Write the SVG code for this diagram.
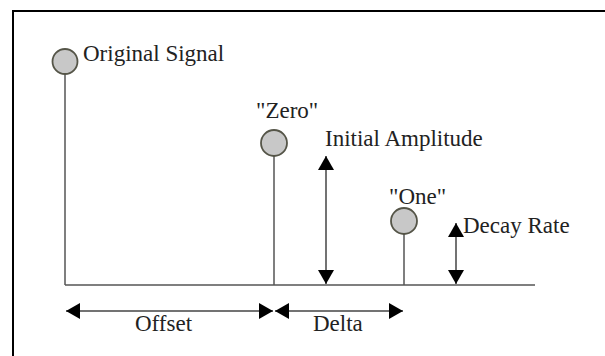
<svg xmlns="http://www.w3.org/2000/svg" width="605" height="356" viewBox="0 0 605 356">
  <style>
    .frame { fill: none; stroke: #000; stroke-width: 2; }
    .stem { stroke: #555; stroke-width: 1.5; fill: none; }
    .dot { fill: #c8c8c8; stroke: #555548; stroke-width: 1.8; }
    .dim { stroke: #444; stroke-width: 1.5; fill: none; }
    .lbl { font-family: "Liberation Serif", "Times New Roman", serif; font-size: 23px; fill: #222; }
  </style>
  <defs>
    <marker id="ah" viewBox="0 0 14 16" refX="14" refY="8" markerWidth="14" markerHeight="16" markerUnits="userSpaceOnUse" orient="auto-start-reverse">
      <path d="M0,0 L14,8 L0,16 Z" fill="#000"/>
    </marker>
  </defs>

  <rect id="frame" class="frame" x="13" y="11" width="610" height="360"/>

  <line id="baseline" class="stem" x1="65" y1="285" x2="535" y2="285"/>

  <g id="original-signal">
    <line class="stem" x1="65" y1="74" x2="65" y2="285"/>
    <circle class="dot" cx="65" cy="61.5" r="12.5"/>
    <text class="lbl" x="83" y="61">Original Signal</text>
  </g>

  <g id="zero">
    <line class="stem" x1="274" y1="156" x2="274" y2="285"/>
    <circle class="dot" cx="274" cy="143" r="13"/>
    <text class="lbl" x="256" y="118">"Zero"</text>
  </g>

  <g id="one">
    <line class="stem" x1="404" y1="234" x2="404" y2="285"/>
    <circle class="dot" cx="404" cy="221" r="13"/>
    <text class="lbl" x="389" y="204">"One"</text>
  </g>

  <g id="connectors">
    <line class="dim" x1="326" y1="156" x2="326" y2="284" marker-start="url(#ah)" marker-end="url(#ah)"/>
    <line class="dim" x1="456" y1="223" x2="456" y2="284" marker-start="url(#ah)" marker-end="url(#ah)"/>
    <line class="dim" x1="66" y1="311" x2="273" y2="311" marker-start="url(#ah)" marker-end="url(#ah)"/>
    <line class="dim" x1="275" y1="311" x2="403" y2="311" marker-start="url(#ah)" marker-end="url(#ah)"/>
  </g>

  <g id="labels">
    <text class="lbl" x="325" y="146">Initial Amplitude</text>
    <text class="lbl" x="463" y="233">Decay Rate</text>
    <text class="lbl" x="135" y="331">Offset</text>
    <text class="lbl" x="313" y="331">Delta</text>
  </g>
</svg>
